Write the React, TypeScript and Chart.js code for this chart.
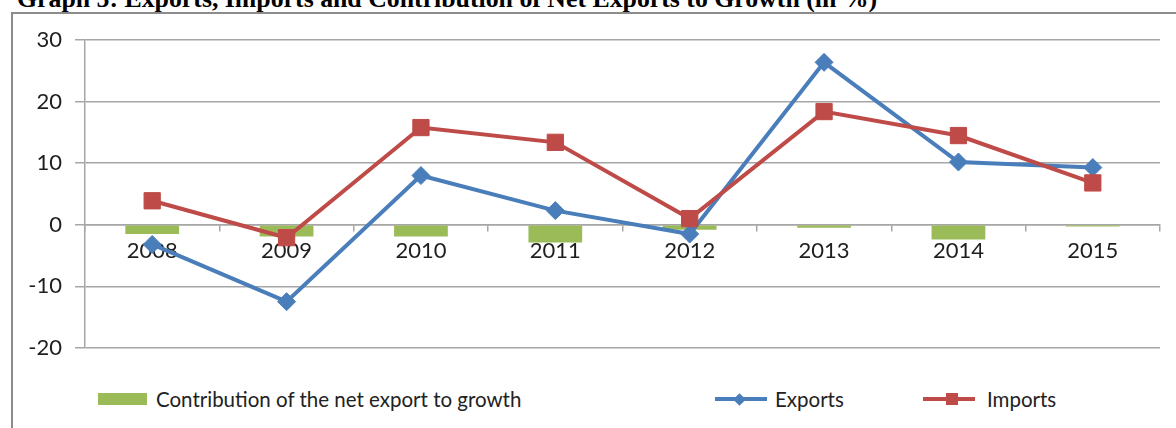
import React, { useEffect, useRef } from "react";
import { Chart, registerables } from "chart.js";

Chart.register(...registerables);

const categories = ["2008", "2009", "2010", "2011", "2012", "2013", "2014", "2015"];
const contribution = [-1.5, -1.9, -1.9, -2.9, -0.8, -0.5, -2.4, -0.3];
const exportsGrowth = [-3.2, -12.5, 8.0, 2.3, -1.5, 26.4, 10.2, 9.3];
const importsGrowth = [3.9, -2.1, 15.8, 13.4, 1.0, 18.4, 14.5, 6.8];
const seriesLabels = ["Contribution of the net export to growth", "Exports", "Imports"];
const titleText = "Graph 5: Exports, Imports and Contribution of Net Exports to Growth (in %)";
const yMin = -20;
const yMax = 30;
const yStep = 10;

const GREEN = "#9bbb59";
const BLUE = "#4a7ebb";
const RED = "#be4b48";
const GRID = "#a6a6a6";
const TEXT = "#1e1e1e";

export default function App() {
  const canvasRef = useRef<HTMLCanvasElement | null>(null);

  useEffect(() => {
    if (!canvasRef.current) return;
    const chart = new Chart(canvasRef.current, {
      type: "bar",
      data: {
        labels: categories,
        datasets: [
          {
            type: "bar",
            label: seriesLabels[0],
            data: contribution,
            backgroundColor: GREEN,
            borderWidth: 0,
            categoryPercentage: 1,
            barPercentage: 0.4,
            order: 3,
          },
          {
            type: "line",
            label: seriesLabels[1],
            data: exportsGrowth,
            borderColor: BLUE,
            backgroundColor: BLUE,
            borderWidth: 4,
            pointStyle: "rectRot",
            pointRadius: 9,
            pointBorderWidth: 1,
            pointBackgroundColor: BLUE,
            pointBorderColor: BLUE,
            tension: 0,
            order: 2,
          },
          {
            type: "line",
            label: seriesLabels[2],
            data: importsGrowth,
            borderColor: RED,
            backgroundColor: RED,
            borderWidth: 4,
            pointStyle: "rect",
            pointRadius: 11.5,
            pointBorderWidth: 1,
            pointBackgroundColor: RED,
            pointBorderColor: RED,
            tension: 0,
            order: 1,
          },
        ],
      },
      options: {
        responsive: false,
        animation: false,
        devicePixelRatio: 1,
        layout: { padding: { top: 26, right: 16, bottom: 6, left: 0 } },
        plugins: {
          legend: { display: false },
          title: { display: false },
          tooltip: { enabled: false },
        },
        scales: {
          x: {
            type: "category",
            position: { y: 0 } as any,
            offset: true,
            grid: {
              offset: true,
              drawOnChartArea: false,
              drawTicks: true,
              tickLength: 6,
              color: GRID,
              lineWidth: 1.5,
            },
            border: { display: true, color: GRID, width: 1.5 },
            ticks: {
              autoSkip: false,
              maxRotation: 0,
              minRotation: 0,
              padding: 7,
              color: TEXT,
              font: { family: "Lato", size: 22 },
            },
          },
          y: {
            min: yMin,
            max: yMax,
            afterFit: (scale: any) => {
              scale.width = 71;
            },
            grid: {
              color: GRID,
              lineWidth: 1.5,
              drawTicks: true,
              tickLength: 10,
            },
            border: { display: true, color: GRID, width: 1.5 },
            ticks: {
              stepSize: yStep,
              padding: 13,
              color: TEXT,
              font: { family: "Lato", size: 22 },
            },
          },
        },
      },
    });
    return () => chart.destroy();
  }, []);

  const legendText: React.CSSProperties = {
    position: "absolute",
    top: 388,
    fontFamily: "Lato",
    fontSize: 20.5,
    lineHeight: "22px",
    color: "#222",
    whiteSpace: "nowrap",
  };

  return (
    <div
      style={{
        position: "fixed",
        left: 0,
        top: 0,
        width: 1176,
        height: 428,
        overflow: "hidden",
        background: "#fff",
      }}
    >
      <div
        style={{
          position: "absolute",
          left: 17,
          top: -14,
          fontFamily: "'Liberation Serif', 'Times New Roman', serif",
          fontWeight: "bold",
          fontSize: 25.8,
          lineHeight: "26px",
          whiteSpace: "nowrap",
          color: "#000",
        }}
      >
        {titleText}
      </div>
      <div
        style={{
          position: "absolute",
          left: 11,
          top: 12,
          width: 1200,
          height: 500,
          border: "2px solid #8c8c8c",
        }}
      />
      <canvas
        ref={canvasRef}
        width={1162}
        height={360}
        style={{ position: "absolute", left: 14, top: 14, width: 1162, height: 360 }}
      />
      <div style={{ position: "absolute", left: 98, top: 393, width: 49, height: 12, background: GREEN }} />
      <div style={{ ...legendText, left: 156 }}>{seriesLabels[0]}</div>

      <div style={{ position: "absolute", left: 715, top: 397, width: 52, height: 4, background: BLUE }} />
      <div
        style={{
          position: "absolute",
          left: 735,
          top: 395,
          width: 9,
          height: 9,
          background: BLUE,
          transform: "rotate(45deg)",
        }}
      />
      <div style={{ ...legendText, left: 775 }}>{seriesLabels[1]}</div>

      <div style={{ position: "absolute", left: 923, top: 397, width: 52, height: 4, background: RED }} />
      <div style={{ position: "absolute", left: 946, top: 393, width: 12, height: 12, background: RED }} />
      <div style={{ ...legendText, left: 987 }}>{seriesLabels[2]}</div>
    </div>
  );
}
